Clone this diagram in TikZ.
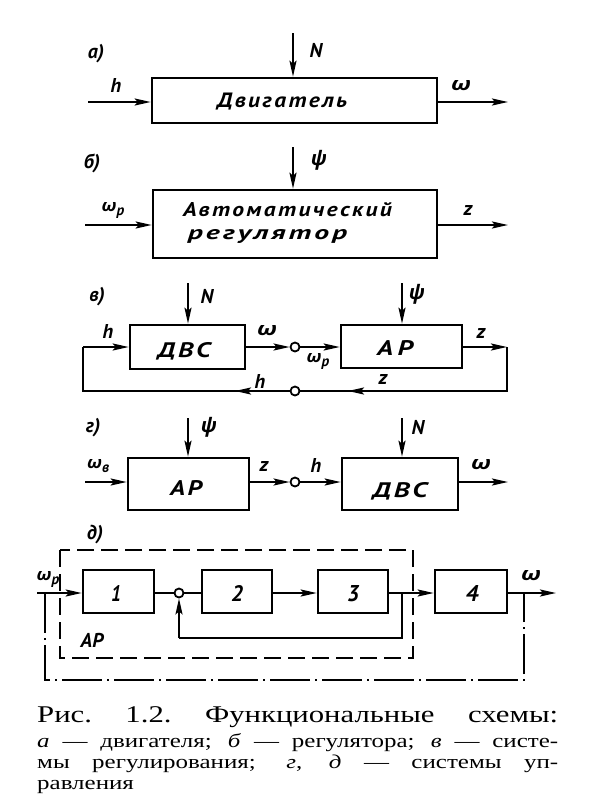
\documentclass[tikz,border=0pt]{standalone}
\usepackage{fontspec}
\usepackage{graphicx}
\usetikzlibrary{arrows.meta}
\newfontfamily\gost{PT Sans}
\newfontfamily\gostbox{PT Sans}[LetterSpace=10]
\newfontfamily\grk{Open Sans}
\newfontfamily\capfont{Liberation Serif}[FakeStretch=1.28]
\newcommand\om{\resizebox{20pt}{10pt}{\grk\bfseries\itshape ω}}
\newcommand\ps{{\grk\bfseries\itshape\fontsize{20}{20}\selectfont ψ}}
\newcommand\omsub[1]{\resizebox{15pt}{9pt}{\grk\bfseries\itshape ω}\raisebox{-4pt}{\gost\bfseries\itshape\fontsize{15}{15}\selectfont #1}}
\newcommand\btxt[3]{\resizebox{#1}{#2}{\gostbox\bfseries\itshape\fontsize{20}{20}\selectfont #3}}
\tikzset{
  blk/.style={draw, line width=2.6pt, inner sep=0pt},
  sig/.style={line width=2.1pt},
  arr/.style={sig, -{Stealth[length=16pt,width=7pt,inset=3pt]}},
  lbl/.style={font=\gost\bfseries\itshape\fontsize{20}{20}\selectfont, inner sep=0pt},
  txt/.style={inner sep=0pt, anchor=base},
  sumc/.style={circle, draw, line width=1.8pt, fill=white, minimum size=9pt, inner sep=0pt},
  dsh/.style={line width=1.8pt, dash pattern=on 17pt off 7pt},
  dshdot/.style={line width=1.8pt, dash pattern=on 40pt off 5pt on 2pt off 5pt},
  capl/.style={anchor=base west, inner sep=0pt},
}
\begin{document}
\begin{tikzpicture}[x=1pt,y=-1pt]
\useasboundingbox (0,0) rectangle (596,803);
\fill[white] (0,0) rectangle (596,803);

% ---------- a)
\node[lbl] (la) at (96,54) {а)};
\node[blk, minimum width=285pt, minimum height=45pt] (A) at (294.5,100.5) {};
\node[txt] (At) at (282,107) {\btxt{130pt}{14.5pt}{Двигатель}};
\coordinate (NAt) at (293,33);
\coordinate (hAi) at (88,102);
\coordinate (wAo) at (508,102);
\draw[arr] (NAt) -- (NAt|-A.north);
\draw[arr] (hAi) -- (A.west|-hAi);
\draw[arr] (A.east|-wAo) -- (wAo);
\node[lbl] (NA) at (316,50) {N};
\node[lbl] (hA) at (116,85) {h};
\node[lbl] (wA) at (461,86) {\om};

% ---------- b)
\node[lbl] (lb) at (92,163) {б)};
\node[blk, minimum width=284pt, minimum height=68pt] (B) at (295,224) {};
\node[txt] (Bt1) at (287.5,216.5) {\btxt{209pt}{14pt}{Автоматический}};
\node[txt] (Bt2) at (267.5,239) {\btxt{159pt}{10pt}{регулятор}};
\coordinate (psBt) at (293,147);
\coordinate (wBi) at (85,225);
\coordinate (zBo) at (508,225);
\draw[arr] (psBt) -- (psBt|-B.north);
\draw[arr] (wBi) -- (B.west|-wBi);
\draw[arr] (B.east|-zBo) -- (zBo);
\node[lbl] (psB) at (319,160) {\ps};
\node[lbl] (wB) at (113,210) {\omsub{р}};
\node[lbl] (zB) at (468,210) {z};

% ---------- v)
\node[lbl] (lv) at (97,297) {в)};
\node[blk, minimum width=115pt, minimum height=44pt] (D1) at (187.5,347) {};
\node[txt] (D1t) at (184,357) {\btxt{53pt}{15pt}{ДВС}};
\node[blk, minimum width=121pt, minimum height=43pt] (R1) at (401.5,346.5) {};
\node[txt] (R1t) at (395,355) {\btxt{36pt}{15pt}{А\,Р}};
\node[sumc] (c1) at (295,347) {};
\node[sumc] (c2) at (295,391) {};
\coordinate (N1t) at (188,283);
\coordinate (ps1t) at (402,283);
\coordinate (LT) at (83,347);
\coordinate (LB) at (83,391);
\coordinate (RT) at (507,347);
\coordinate (RB) at (507,391);
\coordinate (m1) at (348,391);
\coordinate (m2) at (235,391);
\draw[arr] (N1t) -- (N1t|-D1.north);
\draw[arr] (ps1t) -- (ps1t|-R1.north);
\draw[arr] (D1.east|-c1) -- (c1.west);
\draw[arr] (c1.east) -- (R1.west|-c1);
\draw[arr] (R1.east|-RT) -- (RT);
\draw[sig, line join=miter] (RT) -- (RB) -- (c2.east);
\draw[arr] (RB) -- (m1);
\draw[sig, line join=miter] (c2.west) -- (LB) -- (LT);
\draw[arr] (c2.west) -- (m2);
\draw[arr] (LT) -- (D1.west|-LT);
\node[lbl] (N1) at (207,296) {N};
\node[lbl] (ps1) at (417,294) {\ps};
\node[lbl] (h1) at (108,331) {h};
\node[lbl] (w1) at (267,331) {\om};
\node[lbl] (wp1) at (318,361) {\omsub{р}};
\node[lbl] (z1) at (481,333) {z};
\node[lbl] (z2) at (383,379) {z};
\node[lbl] (h2) at (260,381) {h};

% ---------- g)
\node[lbl] (lg) at (93,428) {г)};
\node[blk, minimum width=121pt, minimum height=52pt] (R2) at (188.5,484) {};
\node[txt] (R2t) at (186,495) {\btxt{32pt}{15pt}{АР}};
\node[blk, minimum width=116pt, minimum height=52pt] (D2) at (400,484) {};
\node[txt] (D2t) at (400,497) {\btxt{55pt}{15pt}{ДВС}};
\node[sumc] (c3) at (295,482) {};
\coordinate (ps2t) at (188,418);
\coordinate (N2t) at (402,418);
\coordinate (wgi) at (85,482);
\coordinate (wgo) at (508,482);
\draw[arr] (ps2t) -- (ps2t|-R2.north);
\draw[arr] (N2t) -- (N2t|-D2.north);
\draw[arr] (wgi) -- (R2.west|-wgi);
\draw[arr] (R2.east|-c3) -- (c3.west);
\draw[arr] (c3.east) -- (D2.west|-c3);
\draw[arr] (D2.east|-wgo) -- (wgo);
\node[lbl] (ps2) at (209,427) {\ps};
\node[lbl] (N2) at (418,427) {N};
\node[lbl] (wg) at (98,466) {\omsub{в}};
\node[lbl] (zg) at (264,466) {z};
\node[lbl] (hg) at (316,465) {h};
\node[lbl] (wgl) at (481,465) {\om};

% ---------- d)
\node[lbl] (ld) at (95,535) {д)};
\draw[dsh] (60,550) rectangle (413,658);
\node[blk, minimum width=71pt, minimum height=43pt] (B1) at (118.5,591.5) {};
\node[blk, minimum width=70pt, minimum height=43pt] (B2) at (237,591.5) {};
\node[blk, minimum width=70pt, minimum height=43pt] (B3) at (353,591.5) {};
\node[blk, minimum width=72pt, minimum height=43pt] (B4) at (471,591.5) {};
\node[txt] (B1t) at (116,601) {\btxt{10pt}{16pt}{1}};
\node[txt] (B2t) at (237,601) {\btxt{12pt}{16pt}{2}};
\node[txt] (B3t) at (353,601) {\btxt{12pt}{16pt}{3}};
\node[txt] (B4t) at (472,601) {\btxt{13pt}{16pt}{4}};
\node[sumc] (sc) at (179,593) {};
\coordinate (wdi) at (37,593);
\coordinate (wdo) at (556,593);
\coordinate (f1) at (402,593);
\coordinate (f2) at (402,638);
\coordinate (dl) at (45,593);
\coordinate (dr) at (524,593);
\draw[arr] (wdi) -- (B1.west|-wdi);
\draw[sig] (B1.east|-sc) -- (sc.west);
\draw[sig] (sc.east) -- (B2.west|-sc);
\draw[arr] (B2.east|-sc) -- (B3.west|-sc);
\draw[arr] (B3.east|-sc) -- (B4.west|-sc);
\draw[arr] (B4.east|-wdo) -- (wdo);
\draw[sig, line join=miter] (f1) -- (f2) -- (f2-|sc);
\draw[arr] (f2-|sc) -- (sc.south);
\draw[dshdot] (dl) -- (dl|-0,680) -- (dr|-0,680) -- (dr);
\node[lbl] (wd) at (48,579) {\omsub{р}};
\node[lbl] (wdl) at (531,576) {\om};
\node[lbl] (ARd) at (92,640) {АР};

% ---------- caption
\node[capl, font=\capfont\fontsize{24}{24}\selectfont] (cap1) at (37,722)
  {\makebox[521pt][s]{Рис.\ 1.2.\ Функциональные схемы:}};
\node[capl, font=\capfont\fontsize{19.5}{19.5}\selectfont] (cap2) at (37,747)
  {\makebox[521pt][s]{\textit{а} — двигателя; \textit{б} — регулятора; \textit{в} — систе-}};
\node[capl, font=\capfont\fontsize{19.5}{19.5}\selectfont] (cap3) at (37,768)
  {\makebox[521pt][s]{мы регулирования; \textit{г}, \textit{д} — системы уп-}};
\node[capl, font=\capfont\fontsize{19.5}{19.5}\selectfont] (cap4) at (37,789)
  {равления};
\end{tikzpicture}
\end{document}
